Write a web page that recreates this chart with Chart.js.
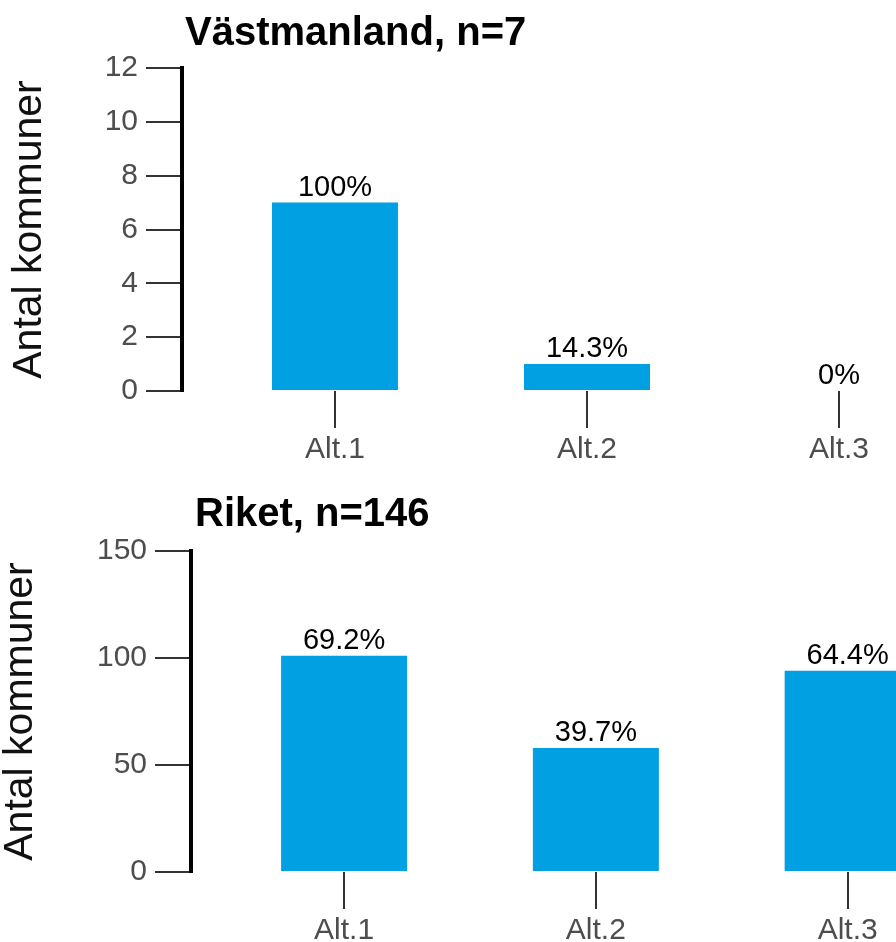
<!DOCTYPE html>
<html>
<head>
<meta charset="utf-8">
<script src="https://cdn.jsdelivr.net/npm/chart.js@4"></script>
<style>
  html, body { margin: 0; padding: 0; background: #fff; overflow: hidden; }
  canvas { display: block; }
</style>
</head>
<body>
<canvas id="topChart" width="896" height="470"></canvas>
<canvas id="bottomChart" width="896" height="472"></canvas>
<script>
// Data
const categories = ['Alt.1', 'Alt.2', 'Alt.3'];
const vastmanlandCounts = [7, 1, 0];
const vastmanlandPct = ['100%', '14.3%', '0%'];
const riketCounts = [101, 58, 94];
const riketPct = ['69.2%', '39.7%', '64.4%'];
const yTicksTop = [0, 2, 4, 6, 8, 10, 12];
const yTicksBottom = [0, 50, 100, 150];

Chart.defaults.font.family = "'Liberation Sans', Arial, sans-serif";
Chart.defaults.animation = false;

const barColor = '#00A0E3';
const tickColor = '#333333';
const labelColor = '#4D4D4D';

// Draws the panel title and the percent label above each bar
const panelLabels = {
    id: 'panelLabels',
    afterDatasetsDraw(chart, args, opts) {
        const ctx = chart.ctx;
        const area = chart.chartArea;
        ctx.save();
        ctx.fillStyle = '#000';
        ctx.font = 'bold 40px "Liberation Sans", Arial, sans-serif';
        ctx.textAlign = 'left';
        ctx.textBaseline = 'alphabetic';
        ctx.fillText(opts.title, area.left + opts.titleDx, opts.titleY);

        ctx.font = '29px "Liberation Sans", Arial, sans-serif';
        ctx.textAlign = 'center';
        const meta = chart.getDatasetMeta(0);
        meta.data.forEach(function(bar, i) {
            ctx.fillText(opts.pct[i], bar.x, bar.y - 7);
        });
        ctx.restore();
    }
};

function makeChart(canvasId, counts, pct, cfg) {
    return new Chart(document.getElementById(canvasId), {
        type: 'bar',
        data: {
            datasets: [{
                data: counts.map(function(v, i) { return { x: i + 1, y: v }; }),
                backgroundColor: barColor,
                barThickness: 126,
                inflateAmount: 0
            }]
        },
        options: {
            responsive: false,
            layout: { padding: { top: cfg.areaTop, left: 0, right: 0, bottom: 0 } },
            plugins: {
                legend: { display: false },
                tooltip: { enabled: false },
                panelLabels: { title: cfg.title, titleDx: cfg.titleDx, titleY: cfg.titleY, pct: pct }
            },
            scales: {
                x: {
                    type: 'linear',
                    min: cfg.xMin,
                    max: cfg.xMax,
                    offset: false,
                    afterBuildTicks: function(s) {
                        s.ticks = categories.map(function(c, i) { return { value: i + 1 }; });
                    },
                    ticks: {
                        callback: function(v) { return categories[v - 1]; },
                        font: { size: 30 },
                        color: labelColor,
                        padding: 4,
                        autoSkip: false,
                        maxRotation: 0
                    },
                    grid: { offset: false, drawOnChartArea: false, drawTicks: true, tickLength: 37, color: tickColor, lineWidth: 2 },
                    border: { display: false },
                    afterFit: function(s) { s.height = cfg.xHeight; }
                },
                y: {
                    min: 0,
                    max: cfg.yTicks[cfg.yTicks.length - 1],
                    afterBuildTicks: function(s) {
                        s.ticks = cfg.yTicks.map(function(v) { return { value: v }; });
                    },
                    ticks: { font: { size: 30 }, color: labelColor, padding: 8 },
                    grid: { drawOnChartArea: false, tickLength: 36, color: tickColor, lineWidth: 2 },
                    border: { color: '#000', width: 4 },
                    title: {
                        display: true,
                        text: 'Antal kommuner',
                        font: { size: 41, lineHeight: 1 },
                        color: '#111',
                        padding: { top: cfg.yTitlePad, bottom: 0 }
                    },
                    afterFit: function(s) { s.width = cfg.axisX; }
                }
            }
        },
        plugins: [panelLabels]
    });
}

makeChart('topChart', vastmanlandCounts, vastmanlandPct, {
    title: 'Västmanland, n=7', titleDx: 3, titleY: 45,
    areaTop: 68, xHeight: 79, axisX: 182,
    xMin: 0.393, xMax: 3.226, yTicks: yTicksTop, yTitlePad: 9
});

makeChart('bottomChart', riketCounts, riketPct, {
    title: 'Riket, n=146', titleDx: 4, titleY: 56,
    areaTop: 81, xHeight: 70, axisX: 191,
    xMin: 0.392, xMax: 3.192, yTicks: yTicksBottom, yTitlePad: 0
});
</script>
</body>
</html>
